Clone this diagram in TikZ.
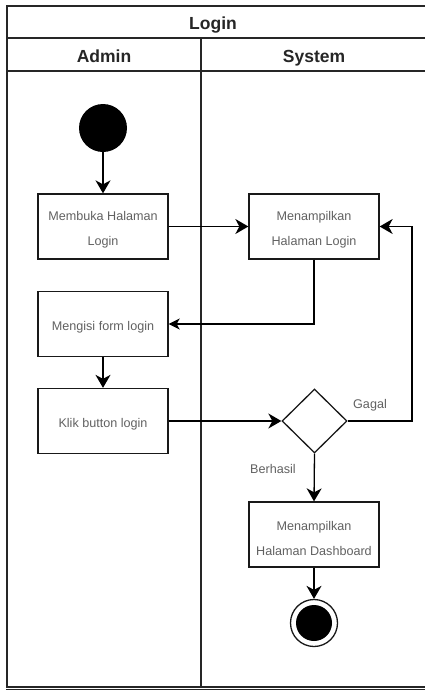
\documentclass[tikz,border=0pt]{standalone}
\usepackage{fontspec}
\setmainfont{Liberation Sans}
\usetikzlibrary{shapes.geometric,arrows.meta}
\begin{document}
\begin{tikzpicture}[x=1pt,y=-1pt,
  frame/.style={draw=black!85,line width=1.6pt},
  txt/.style={align=center,font=\fontsize{12.6}{25}\selectfont,text=black!62,inner sep=0pt},
  box/.style={draw=black!90,line width=1.3pt,minimum width=130pt,minimum height=65pt,inner sep=0pt,
    label={[txt,yshift=-3.5pt]center:#1}},
  lbl/.style={font=\fontsize{12.6}{15}\selectfont,text=black!62,inner sep=0pt},
  hdr/.style={font=\bfseries\fontsize{17.5}{20}\selectfont,text=black!85,inner sep=0pt,anchor=base},
  arr/.style={line width=1.3pt,-{Stealth[length=13pt,width=15pt,inset=4pt]}},
  arrs/.style={line width=1.3pt,-{Stealth[length=11pt,width=11pt,inset=3pt]}}]
\useasboundingbox (0,0) rectangle (425,691);
\clip (0,0) rectangle (425,691);
% swimlane frame
\draw[frame] (7,6) rectangle (445,687);
\draw[frame] (7,38) -- (445,38);
\draw[frame] (7,71) -- (445,71);
\draw[frame] (201,38) -- (201,687);
\draw[line width=1.4pt,black!85] (6,689.6) -- (430,689.6);
\node[hdr] (title) at (213,29) {Login};
\node[hdr] (adm) at (104,62.5) {Admin};
\node[hdr] (sys) at (314,62.5) {System};
% nodes
\node[circle,fill=black,minimum size=48pt,inner sep=0pt] (start) at (103,128) {};
\node[box={Membuka Halaman\\Login}] (b1) at (103,226.5) {};
\node[box={Menampilkan\\Halaman Login}] (b2) at (314,226.5) {};
\node[box={Mengisi form login}] (b3) at (103,324) {};
\node[box={Klik button login}] (b4) at (103,421) {};
\node[diamond,draw=black!90,line width=1.3pt,minimum width=65pt,minimum height=64pt,inner sep=0pt] (dec) at (314.5,421) {};
\node[box={Menampilkan\\Halaman Dashboard}] (b5) at (314,534.5) {};
\node[circle,draw=black!90,line width=1.3pt,minimum size=47pt,inner sep=0pt] (end) at (314,623) {};
\node[circle,fill=black,minimum size=36pt,inner sep=0pt] (endin) at (end) {};
\coordinate (g) at (412,421);
% labels
\node[lbl] (gagal) at (370,405) {Gagal};
\node[lbl] (berhasil) at (273,469) {Berhasil};
% connectors
\draw[arr] (start) -- (b1);
\draw[arr] (b1.east) -- (b2.west);
\draw[arrs] (b2.south) |- (b3.east);
\draw[arr] (b3) -- (b4);
\draw[arr] (b4.east) -- (dec.west);
\draw[arr] (dec.east) -- (g) |- (b2.east);
\draw[arr] (dec.south) -- (b5.north);
\draw[arr] (b5) -- (end);
\end{tikzpicture}
\end{document}
